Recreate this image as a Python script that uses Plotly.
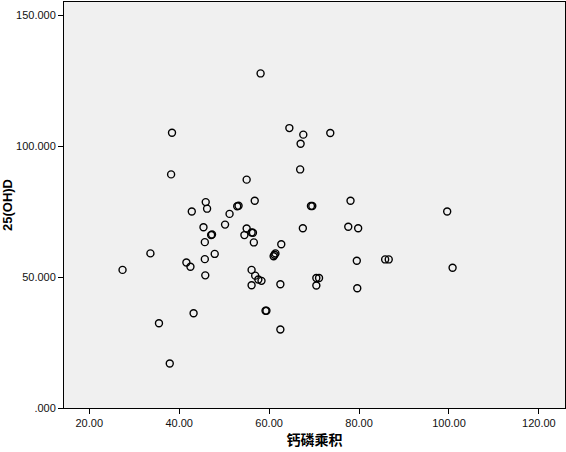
import plotly.graph_objects as go

# 钙磷乘积 (x) and 25(OH)D (y)
calcium_phosphate = [
    58.1, 38.4, 64.5, 67.6, 67.0, 38.2, 66.9, 55.0, 45.9, 46.2,
    42.8, 52.9, 53.2, 56.8, 51.2, 50.2, 45.4, 47.1, 47.3, 55.0,
    54.5, 56.1, 56.4, 56.6, 45.7, 62.7, 33.6, 47.9, 61.4, 61.0,
    61.2, 67.5, 69.3, 69.6, 73.6, 78.1, 77.6, 79.8, 99.6, 41.6,
    42.5, 45.7, 27.4, 45.8, 56.1, 56.9, 57.6, 58.3, 56.1, 62.5,
    43.2, 35.5, 59.2, 59.4, 62.5, 37.9, 79.5, 85.8, 86.6, 100.8,
    70.5, 71.1, 70.5, 79.6,
]
vitamin_d = [
    127.9, 105.2, 107.0, 104.5, 101.0, 89.3, 91.2, 87.3, 78.7, 76.2,
    75.1, 77.1, 77.3, 79.2, 74.2, 70.1, 69.1, 66.1, 66.3, 68.6,
    66.1, 67.1, 67.0, 63.3, 63.4, 62.6, 59.1, 58.9, 59.1, 58.0,
    58.6, 68.7, 77.2, 77.2, 105.1, 79.2, 69.3, 68.7, 75.1, 55.6,
    54.0, 56.9, 52.8, 50.7, 52.8, 50.6, 49.1, 48.6, 46.9, 47.3,
    36.2, 32.4, 37.2, 37.2, 30.0, 17.0, 56.3, 56.8, 56.8, 53.6,
    49.7, 49.7, 46.8, 45.8,
]

x_ticks = [20, 40, 60, 80, 100, 120]
x_labels = ["20.00", "40.00", "60.00", "80.00", "100.00", "120.00"]
y_ticks = [0, 50, 100, 150]
y_labels = [".000", "50.000", "100.000", "150.000"]

fig = go.Figure(
    go.Scatter(
        x=calcium_phosphate,
        y=vitamin_d,
        mode="markers",
        marker=dict(
            symbol="circle-open",
            size=7,
            color="black",
            line=dict(width=1.4, color="black"),
        ),
        hovertemplate="%{x:.2f}, %{y:.3f}<extra></extra>",
        showlegend=False,
    )
)

axis_common = dict(
    showgrid=False,
    zeroline=False,
    showline=True,
    linecolor="black",
    linewidth=1,
    mirror=True,
    ticks="outside",
    ticklen=5,
    tickcolor="black",
    tickwidth=1,
    automargin=False,
    tickfont=dict(family="Liberation Sans, Arial", size=11, color="#111"),
)

fig.update_layout(
    width=566,
    height=452,
    margin=dict(l=64, r=1, t=2, b=44, autoexpand=False),
    paper_bgcolor="white",
    plot_bgcolor="#f0f0f0",
    xaxis=dict(
        range=[14.38, 125.8],
        tickvals=x_ticks,
        ticktext=x_labels,
        title=dict(
            text="<b>钙磷乘积</b>",
            font=dict(family="Noto Sans CJK SC", size=14, color="black"),
            standoff=6,
        ),
        **axis_common,
    ),
    yaxis=dict(
        range=[0, 155.2],
        tickvals=y_ticks,
        ticktext=y_labels,
        title=dict(
            text="<b>25(OH)D</b>",
            font=dict(family="Liberation Sans, Arial", size=13, color="black"),
            standoff=2,
        ),
        **axis_common,
    ),
)

# page body has a default 8px margin; drop it so the figure sits at 0,0
fig.write_html(
    "out.html",
    config={"displayModeBar": False},
    post_script="document.body.style.margin='0';document.body.style.overflow='hidden';",
)
